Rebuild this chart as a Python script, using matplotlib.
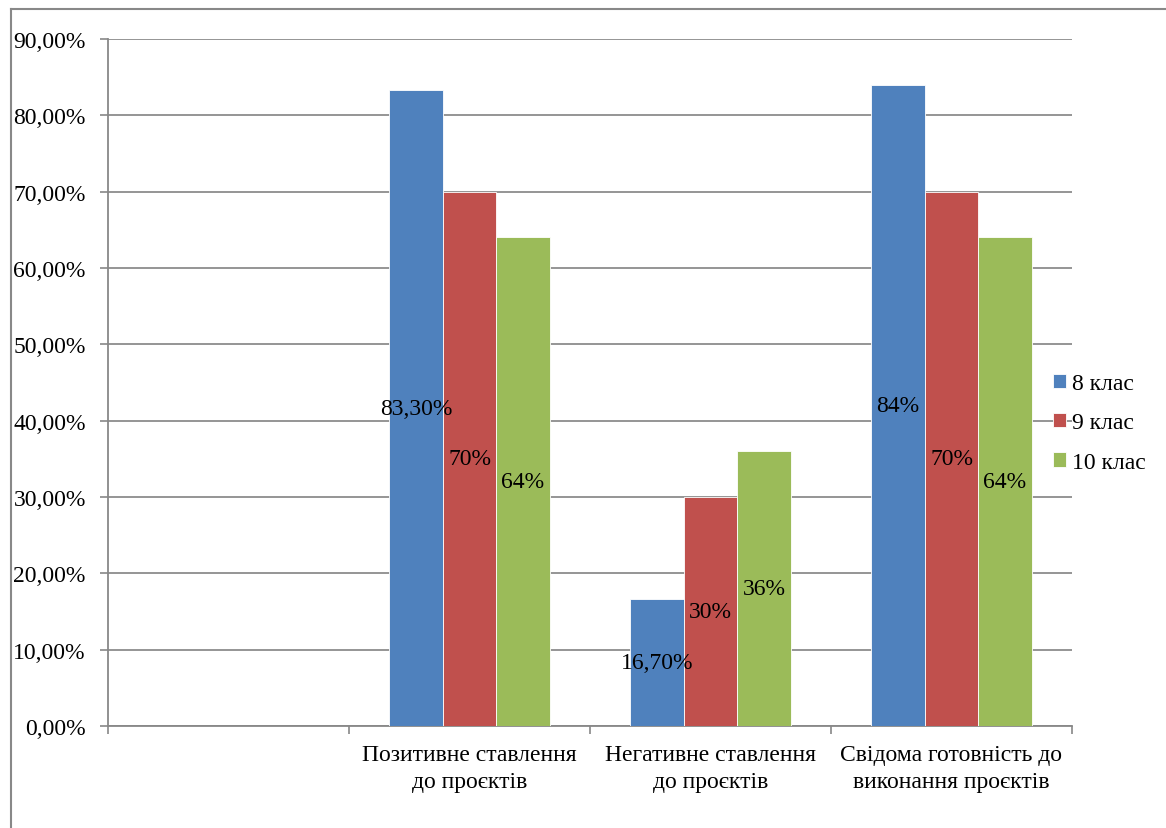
import numpy as np
import matplotlib.pyplot as plt

plt.rcParams['font.family'] = ['Liberation Serif', 'DejaVu Serif']

categories = ['', 'Позитивне ставлення\nдо проєктів', 'Негативне ставлення\nдо проєктів',
              'Свідома готовність до\nвиконання проєктів']
series = ['8 клас', '9 клас', '10 клас']
values = {
    '8 клас': [np.nan, 83.3, 16.7, 84.0],
    '9 клас': [np.nan, 70.0, 30.0, 70.0],
    '10 клас': [np.nan, 64.0, 36.0, 64.0],
}
labels = {
    '8 клас': ['', '83,30%', '16,70%', '84%'],
    '9 клас': ['', '70%', '30%', '70%'],
    '10 клас': ['', '64%', '36%', '64%'],
}
colors = ['#4F81BD', '#C0504D', '#9BBB59']
yticks = np.arange(0, 91, 10)

W, H = 1166, 829
fig = plt.figure(figsize=(W / 100, H / 100), dpi=100)
ax = fig.add_axes([108 / W, (H - 727) / H, 964 / W, 687 / H])

x = np.arange(len(categories))
bw = 1 / 4.5
for i, s in enumerate(series):
    pos = x + (i - 1) * bw
    ax.bar(pos, values[s], width=bw, color=colors[i], edgecolor='white',
           linewidth=0.6, zorder=3, label=s)
    for p, v, t in zip(pos, values[s], labels[s]):
        if t:
            ax.text(p, v / 2, t, ha='center', va='center', fontsize=17, zorder=4)

ax.set_xlim(-0.5, len(categories) - 0.5)
ax.set_ylim(0, 90)
ax.set_yticks(yticks)
ax.set_yticklabels([f'{v:.2f}%'.replace('.', ',') for v in yticks], fontsize=17)
ax.set_xticks(x)
ax.set_xticklabels(categories, fontsize=17, linespacing=1.4)
ax.set_xticks(np.arange(len(categories) + 1) - 0.5, minor=True)
ax.tick_params(axis='x', which='major', length=0, pad=13)
ax.tick_params(axis='x', which='minor', length=6, color='#888888', width=1.2)
ax.tick_params(axis='y', length=6, color='#888888', width=1.2, pad=10)
ax.yaxis.grid(True, color='#8c8c8c', linewidth=1.3, zorder=0)
ax.set_axisbelow(True)
for side in ['top', 'right']:
    ax.spines[side].set_visible(False)
for side in ['left', 'bottom']:
    ax.spines[side].set_color('#888888')
    ax.spines[side].set_linewidth(1.3)

fig.legend(loc='center left', bbox_to_anchor=(1053 / W, 1 - 424 / H), frameon=False,
           fontsize=17, handlelength=0.55, handleheight=0.55, handletextpad=0.25,
           labelspacing=0.78, borderaxespad=0, borderpad=0)

# outer chart border (only top and left visible in the crop)
fig.add_artist(plt.Line2D([11 / W, 1], [1 - 10 / H, 1 - 10 / H], color='#888888', linewidth=1.5))
fig.add_artist(plt.Line2D([11 / W, 11 / W], [0, 1 - 10 / H], color='#888888', linewidth=1.5))

fig.savefig('out.png', dpi=100)
